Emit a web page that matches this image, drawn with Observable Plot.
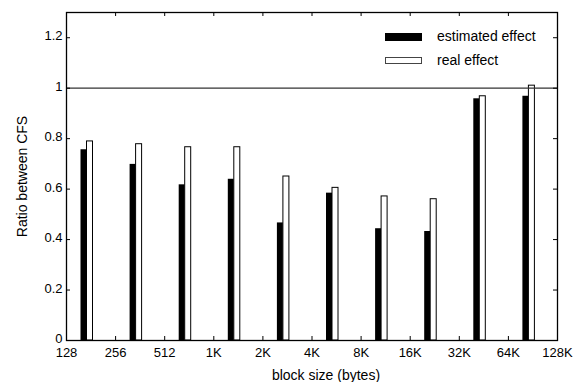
<!DOCTYPE html>
<html>
<head>
<meta charset="utf-8">
<script src="https://cdn.jsdelivr.net/npm/d3@7"></script>
<script src="https://cdn.jsdelivr.net/npm/@observablehq/plot@0.6"></script>
<style>
  html, body { margin: 0; padding: 0; background: #fff; }
  #wrap { position: relative; width: 575px; height: 382px; font-family: "Liberation Sans", Arial, sans-serif; }
  .lg-box { position: absolute; box-sizing: border-box; }
  .lg-text { position: absolute; font-size: 14px; line-height: 16px; color: #000; white-space: nowrap; }
</style>
</head>
<body>
<div id="wrap"></div>
<script>
// ---- data ----
const categories = ["128", "256", "512", "1K", "2K", "4K", "8K", "16K", "32K", "64K", "128K"];
const estimated = [0.756, 0.698, 0.617, 0.639, 0.466, 0.584, 0.443, 0.432, 0.958, 0.968];
const real      = [0.789, 0.778, 0.766, 0.766, 0.650, 0.605, 0.571, 0.560, 0.968, 1.01];
const yTicks = [0, 0.2, 0.4, 0.6, 0.8, 1.0, 1.2];
const yTickLabels = ["0", "0.2", "0.4", "0.6", "0.8", "1", "1.2"];
const refLine = [1];
const seriesNames = ["estimated effect", "real effect"];
const xTitle = "block size (bytes)";
const yTitle = "Ratio between CFS";

// ---- layout ----
const W = 575, H = 382;
const mL = 66, mR = 18, mT = 12, mB = 42;
const innerW = W - mL - mR, innerH = H - mT - mB;
const step = innerW / (categories.length - 1);
const tickLen = 4;
const font = "Liberation Sans, Arial, sans-serif";

const xPos = categories.map((c, i) => i);
const estRows = estimated.map((v, i) => ({i, v}));
const realRows = real.map((v, i) => ({i, v}));

const chart = Plot.plot({
  width: W, height: H,
  marginLeft: mL, marginRight: mR, marginTop: mT, marginBottom: mB,
  style: {fontFamily: font, fontSize: "13px", color: "#000", background: "#fff", overflow: "visible"},
  x: {type: "linear", domain: [0, categories.length - 1], axis: null},
  y: {domain: [0, 1.3], axis: null},
  marks: [
    // bars
    Plot.rectY(estRows, {x1: d => d.i, x2: d => d.i + 1, y1: 0, y2: d => d.v,
      fill: "#000", insetLeft: 14.5, insetRight: step - 20.5}),
    Plot.rectY(realRows, {x1: d => d.i, x2: d => d.i + 1, y1: 0, y2: d => d.v,
      fill: "#fff", stroke: "#000", strokeWidth: 1, insetLeft: 20.5, insetRight: step - 26.5}),
    // reference line at 1
    Plot.ruleY(refLine, {stroke: "#333", strokeWidth: 1.2}),
    // frame
    Plot.frame({stroke: "#000", strokeWidth: 1.3}),
    // inward ticks
    Plot.tickY(yTicks, {y: d => d, insetRight: innerW - tickLen, stroke: "#000"}),
    Plot.tickY(yTicks, {y: d => d, insetLeft: innerW - tickLen, stroke: "#000"}),
    Plot.tickX(xPos, {x: d => d, insetTop: innerH - tickLen, stroke: "#000"}),
    Plot.tickX(xPos, {x: d => d, insetBottom: innerH - tickLen, stroke: "#000"}),
    // tick labels
    Plot.axisY(yTicks, {anchor: "left", tickSize: 0, tickPadding: 4, label: null, dy: -1.5,
      tickFormat: (d, i) => yTickLabels[i], fontSize: 13}),
    Plot.axisX(xPos, {anchor: "bottom", tickSize: 0, tickPadding: 7, label: null,
      tickFormat: d => categories[d], fontSize: 13}),
    // axis titles
    Plot.text([xTitle], {text: d => d, frameAnchor: "bottom", dx: 14, dy: 39,
      lineAnchor: "bottom", fontSize: 14}),
    Plot.text([yTitle], {text: d => d, frameAnchor: "left", dx: -44, rotate: -90,
      textAnchor: "middle", lineAnchor: "middle", fontSize: 14})
  ]
});

const wrap = document.getElementById("wrap");
wrap.appendChild(chart);

// legend (inside plot, top right)
const legend = [
  {name: seriesNames[0], top: 32.5, h: 8, fill: "#000", border: "none"},
  {name: seriesNames[1], top: 57, h: 7, fill: "#fff", border: "1px solid #444"}
];
legend.forEach(l => {
  const b = document.createElement("div");
  b.className = "lg-box";
  b.style.left = "385px"; b.style.top = l.top + "px";
  b.style.width = "37px"; b.style.height = l.h + "px";
  b.style.background = l.fill; b.style.border = l.border;
  wrap.appendChild(b);
  const t = document.createElement("div");
  t.className = "lg-text";
  t.style.left = "437px"; t.style.top = (l.top + l.h / 2 - 9) + "px";
  t.textContent = l.name;
  wrap.appendChild(t);
});
</script>
</body>
</html>
